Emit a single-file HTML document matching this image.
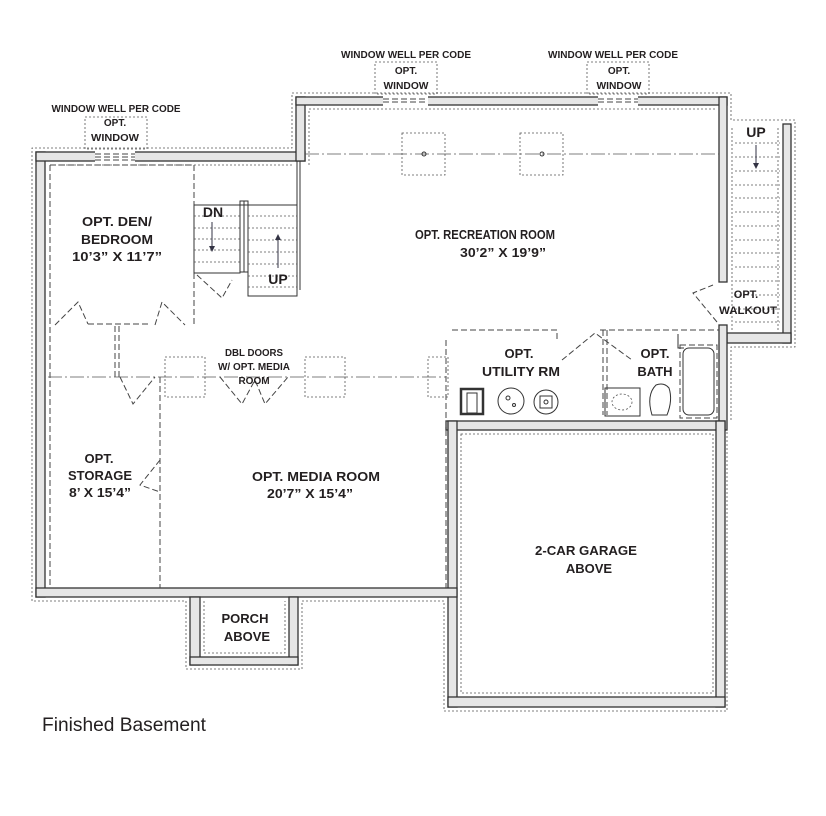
<!DOCTYPE html>
<html><head><meta charset="utf-8"><style>
html,body{margin:0;padding:0;background:#fff;}
svg{display:block;}
text{font-family:"Liberation Sans",sans-serif;font-weight:bold;fill:#231f20;text-anchor:middle;}
.w{fill:#e6e6e6;stroke:#333;stroke-width:1.3;}
.d{fill:none;stroke:#555;stroke-width:0.8;stroke-dasharray:2 2;}
.ds{fill:none;stroke:#444;stroke-width:1;stroke-dasharray:6 3;}
.dd{fill:none;stroke:#555;stroke-width:0.8;stroke-dasharray:14 3 2 3;}
.l{fill:none;stroke:#333;stroke-width:1;}
</style></head><body>
<svg width="826" height="816" viewBox="0 0 826 816" xmlns="http://www.w3.org/2000/svg">
<!-- outer dotted outline -->
<path class="d" d="M32 601 V148 H292 V93 H731 V120 H795 V347 H731 V420 M727 420 V711 H444 V601 H302 V669 H186 V601 H32"/>
<!-- inner dotted -->
<path class="d" d="M50 165 H292 M309 165 V109 H715 M461 434 H713 V693 H461 Z M204 601 V653 H285 V601"/>
<!-- walls -->
<rect class="w" x="36" y="152" width="9" height="445"/>
<rect class="w" x="36" y="152" width="269" height="9"/>
<rect class="w" x="296" y="97" width="9" height="64"/>
<rect class="w" x="296" y="97" width="431" height="8"/>
<rect class="w" x="719" y="97" width="8" height="185"/>
<rect class="w" x="783" y="124" width="8" height="219"/>
<rect class="w" x="727" y="333" width="64" height="10"/>
<rect class="w" x="719" y="325" width="8" height="105"/>
<rect class="w" x="446" y="421" width="279" height="9"/>
<rect class="w" x="448" y="421" width="9" height="286"/>
<rect class="w" x="716" y="421" width="9" height="286"/>
<rect class="w" x="448" y="697" width="277" height="10"/>
<rect class="w" x="36" y="588" width="421" height="9"/>
<rect class="w" x="190" y="597" width="10" height="68"/>
<rect class="w" x="289" y="597" width="9" height="68"/>
<rect class="w" x="190" y="657" width="108" height="8"/>
<!-- window openings -->
<g>
<rect x="95" y="151" width="40" height="11" fill="#fff"/>
<path class="ds" d="M95 154 H135 M95 157 H135 M95 160 H135"/>
<rect x="383" y="96" width="45" height="10" fill="#fff"/>
<path class="ds" d="M383 99 H428 M383 102 H428"/>
<rect x="598" y="96" width="40" height="10" fill="#fff"/>
<path class="ds" d="M598 99 H638 M598 102 H638"/>
</g>
<!-- window boxes -->
<rect class="d" x="375" y="62" width="62" height="32"/>
<rect class="d" x="587" y="62" width="62" height="32"/>
<rect class="d" x="85" y="117" width="62" height="32"/>
<!-- inner dashed finish walls -->
<path class="ds" d="M50 165 V588 M50 165 H194 V327 M194 165 V327 M160 377 V588 M446 340 V588"/>
<path class="ds" d="M88 324 H150 M115 326 V377 M119 326 V377"/>
<!-- dash dot lines -->
<path class="dd" d="M48 377 H446"/>
<path class="dd" d="M305 154 H719"/>
<!-- door swings -->
<path class="ds" d="M55 325 L78 302 L88 324 M155 325 L162 302 L185 325"/>
<path class="ds" d="M120 377 L133 404 L155 377 M220 377 L242 404 L255 380 L265 404 L288 377"/>
<path class="ds" d="M160 460 L140 485 L160 492"/>
<path class="ds" d="M197 275 L222 298 L232 280"/>
<path class="ds" d="M452 330 H557 V342 M600 330 H719 M562 360 L595 333 L632 360"/>
<path class="ds" d="M603 330 V415 M607 330 V415"/>
<path class="ds" d="M717 322 L693 293 L713 285"/>
<!-- light boxes -->
<rect class="d" x="402" y="133" width="43" height="42"/><circle cx="424" cy="154" r="2" class="l"/>
<rect class="d" x="520" y="133" width="43" height="42"/><circle cx="542" cy="154" r="2" class="l"/>
<rect class="d" x="165" y="357" width="40" height="40"/>
<rect class="d" x="305" y="357" width="40" height="40"/>
<rect class="d" x="428" y="357" width="20" height="40"/>
<!-- stairs -->
<rect class="l" x="194" y="205" width="46" height="68"/>
<path class="d" d="M194 216 H240 M194 228 H240 M194 239 H240 M194 250 H240 M194 262 H240"/>
<rect x="240" y="201" width="8" height="71" fill="#fff" stroke="#333"/>
<path class="l" d="M244 201 V272"/>
<rect class="l" x="248" y="205" width="49" height="91"/>
<path class="d" d="M248 216 H297 M248 228 H297 M248 240 H297 M248 252 H297 M248 264 H297 M248 276 H297 M248 287 H297"/>
<path class="l" d="M194 205 H297 M297 161 V205 M300 161 V290"/>
<path d="M212 222 V250 M278 268 V236" stroke="#334" stroke-width="1"/>
<path d="M209 246 L212 252 L215 246 Z M275 240 L278 234 L281 240 Z" fill="#334"/>
<!-- right stairs -->
<path class="d" d="M732 128 V330 M778 128 V330 M735 143 H780 M735 157 H780 M735 171 H780 M735 185 H780 M735 198 H780 M735 212 H780 M735 226 H780 M735 240 H780 M735 253 H780 M735 267 H780 M735 281 H780 M735 295 H780 M735 309 H780 M735 322 H780"/>
<path d="M756 145 V165" stroke="#334"/><path d="M753 163 L756 169 L759 163 Z" fill="#334"/>
<!-- utility fixtures -->
<rect x="461" y="389" width="22" height="25" fill="#fff" stroke="#333" stroke-width="2.5"/>
<rect x="467" y="393" width="10" height="20" class="l"/>
<circle cx="511" cy="401" r="13" class="l"/><circle cx="508" cy="398" r="2" class="l"/><circle cx="514" cy="405" r="1.5" class="l"/>
<circle cx="546" cy="402" r="12" class="l"/><rect x="540" y="396" width="12" height="12" class="l"/><circle cx="546" cy="402" r="2" class="l"/>
<rect class="l" x="605" y="388" width="35" height="28"/><ellipse class="d" cx="622" cy="402" rx="10" ry="8"/>
<path class="l" d="M652 415 Q646 395 656 385 Q664 382 669 388 Q673 400 667 415 Z"/>
<rect class="l" x="683" y="348" width="31" height="67" rx="6"/>
<rect class="ds" x="680" y="345" width="37" height="73"/>
<path class="l" d="M678 334 V348 H684"/>
<!-- text -->
<g font-size="10">
<text x="406" y="58" textLength="130" lengthAdjust="spacingAndGlyphs">WINDOW WELL PER CODE</text>
<text x="613" y="58" textLength="130" lengthAdjust="spacingAndGlyphs">WINDOW WELL PER CODE</text>
<text x="116" y="112" textLength="129" lengthAdjust="spacingAndGlyphs">WINDOW WELL PER CODE</text>
<text x="406" y="74">OPT.</text><text x="406" y="89" textLength="45" lengthAdjust="spacingAndGlyphs">WINDOW</text>
<text x="619" y="74">OPT.</text><text x="619" y="89" textLength="45" lengthAdjust="spacingAndGlyphs">WINDOW</text>
<text x="115" y="126">OPT.</text><text x="115" y="141" textLength="48" lengthAdjust="spacingAndGlyphs">WINDOW</text>
<text x="254" y="356" textLength="58" lengthAdjust="spacingAndGlyphs">DBL DOORS</text>
<text x="254" y="370" textLength="72" lengthAdjust="spacingAndGlyphs">W/ OPT. MEDIA</text>
<text x="254" y="384">ROOM</text>
<text x="746" y="298" font-size="11">OPT.</text>
<text x="748" y="314" font-size="11" textLength="58" lengthAdjust="spacingAndGlyphs">WALKOUT</text>
</g>
<g font-size="13">
<text x="117" y="226" textLength="70" lengthAdjust="spacingAndGlyphs">OPT. DEN/</text>
<text x="117" y="244" textLength="72" lengthAdjust="spacingAndGlyphs">BEDROOM</text>
<text x="117" y="261" textLength="90" lengthAdjust="spacingAndGlyphs">10’3” X 11’7”</text>
<text x="213" y="217" font-size="14">DN</text>
<text x="278" y="284" font-size="14">UP</text>
<text x="756" y="137" font-size="14">UP</text>
<text x="485" y="239" textLength="140" lengthAdjust="spacingAndGlyphs">OPT. RECREATION ROOM</text>
<text x="503" y="257" textLength="86" lengthAdjust="spacingAndGlyphs">30’2” X 19’9”</text>
<text x="519" y="358">OPT.</text>
<text x="521" y="376" textLength="78" lengthAdjust="spacingAndGlyphs">UTILITY RM</text>
<text x="655" y="358">OPT.</text>
<text x="655" y="376">BATH</text>
<text x="99" y="463">OPT.</text>
<text x="100" y="480" textLength="64" lengthAdjust="spacingAndGlyphs">STORAGE</text>
<text x="100" y="497" textLength="62" lengthAdjust="spacingAndGlyphs">8’ X 15’4”</text>
<text x="316" y="481" textLength="128" lengthAdjust="spacingAndGlyphs">OPT. MEDIA ROOM</text>
<text x="310" y="498" textLength="86" lengthAdjust="spacingAndGlyphs">20’7” X 15’4”</text>
<text x="586" y="555" textLength="102" lengthAdjust="spacingAndGlyphs">2-CAR GARAGE</text>
<text x="589" y="573">ABOVE</text>
<text x="245" y="623">PORCH</text>
<text x="247" y="641">ABOVE</text>
</g>
<text x="42" y="731" font-size="19" style="font-weight:normal;text-anchor:start" textLength="164" lengthAdjust="spacingAndGlyphs">Finished Basement</text>
</svg>
</body></html>
